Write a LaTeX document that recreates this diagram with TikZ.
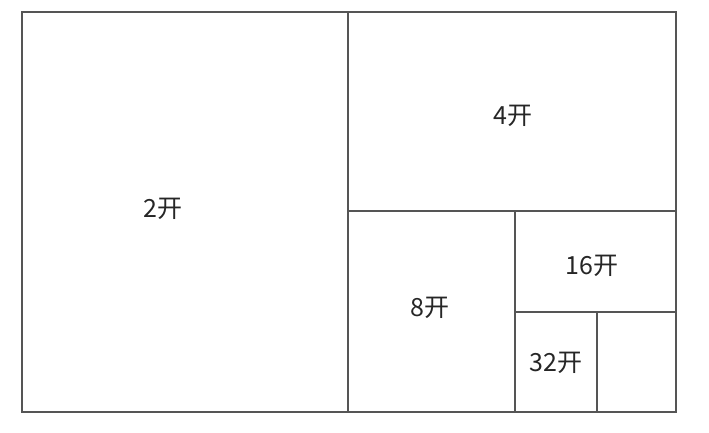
\documentclass[tikz,border=0pt]{standalone}
\usepackage{fontspec}
\setmainfont{Noto Sans CJK SC}
\definecolor{linegray}{HTML}{555555}

\begin{document}
\begin{tikzpicture}[x=1pt, y=-1pt,
    edge/.style={linegray, line width=1.4pt},
    sizelabel/.style={font=\fontsize{25}{30}\selectfont, text=black!85}]
    % বাউন্ডিং বক্স
    \useasboundingbox (0, 0) rectangle (709, 432);

    % কোণ বিন্দু
    \coordinate (TL) at (22, 12);
    \coordinate (BR) at (676, 412);
    \coordinate (M1) at (348, 12);
    \coordinate (M2) at (348, 412);
    \coordinate (H1) at (348, 211);
    \coordinate (H2) at (676, 211);
    \coordinate (V1) at (515, 211);
    \coordinate (V2) at (515, 412);
    \coordinate (K1) at (515, 312);
    \coordinate (K2) at (676, 312);
    \coordinate (S1) at (597, 312);
    \coordinate (S2) at (597, 412);

    % রেখা অঙ্কন
    \draw[edge] (TL) rectangle (BR);
    \draw[edge] (M1) -- (M2);
    \draw[edge] (H1) -- (H2);
    \draw[edge] (V1) -- (V2);
    \draw[edge] (K1) -- (K2);
    \draw[edge] (S1) -- (S2);

    % লেবেল
    \node[sizelabel] (two) at (163, 209) {2开};
    \node[sizelabel] (four) at (513, 116) {4开};
    \node[sizelabel] (eight) at (430, 308) {8开};
    \node[sizelabel] (sixteen) at (592, 266) {16开};
    \node[sizelabel] (thirtytwo) at (556, 363) {32开};
\end{tikzpicture}
\end{document}
